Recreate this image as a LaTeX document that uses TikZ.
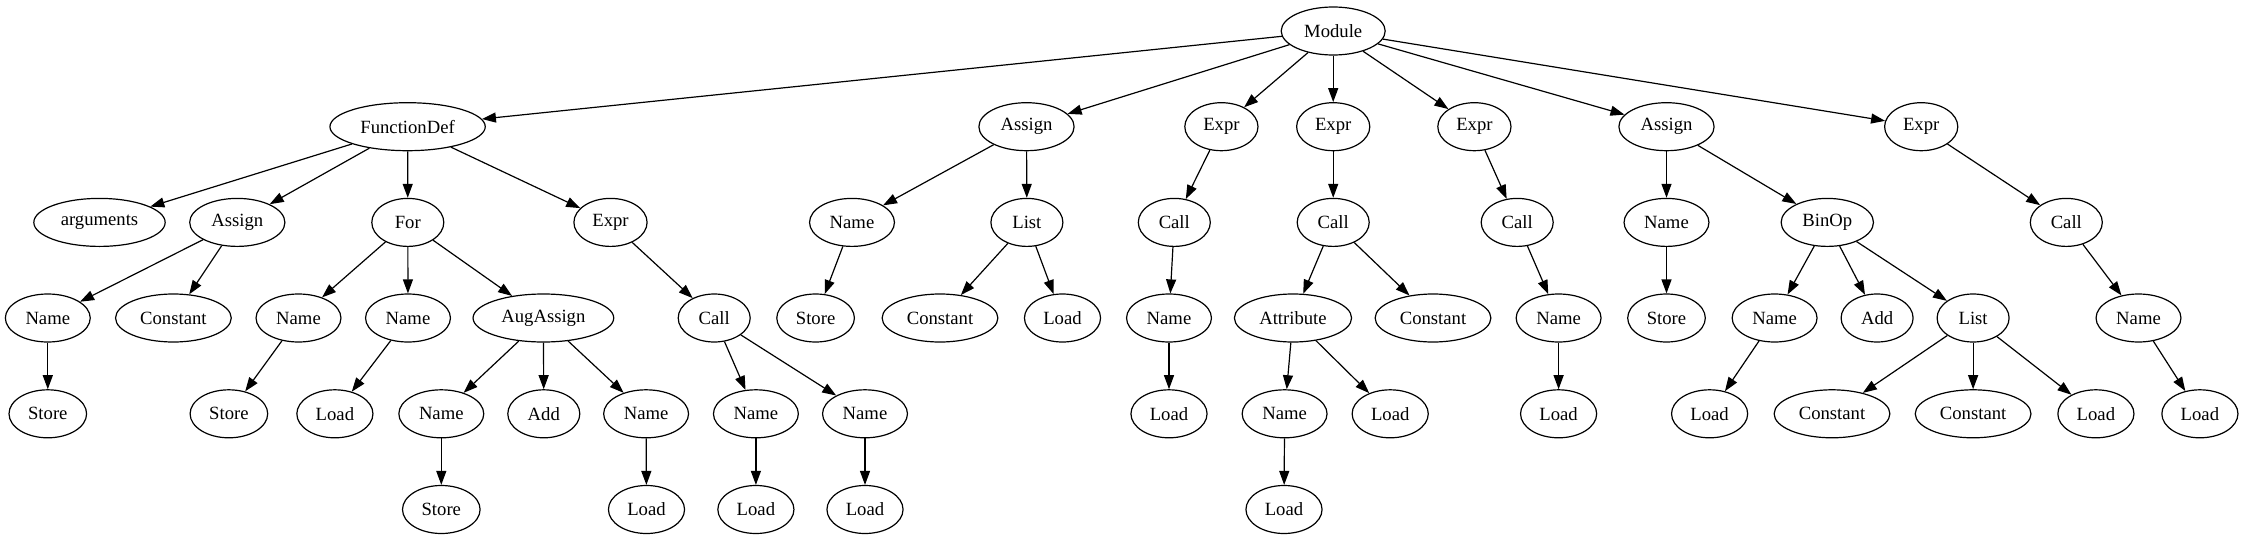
\documentclass[tikz,border=0pt]{standalone}
\usepackage{fontspec}
\setmainfont{Liberation Serif}
\usepackage{tikz}
\usetikzlibrary{shapes.geometric, arrows.meta}

\tikzset{
    ast/.style={ellipse, draw, line width=0.9pt, inner xsep=5.8pt, inner ysep=2pt,
        minimum width=54pt, minimum height=36pt,
        font=\fontsize{14}{16}\selectfont},
    edge/.style={line width=0.9pt, -{Triangle[length=10.5pt,width=7.5pt]}}
}

\begin{document}
\begin{tikzpicture}[x=0.75pt, y=-0.75pt]
    \useasboundingbox (0,0) rectangle (2246,539);

    % root and first level
    \node[ast] (mod) at (1333.2,31) {Module};
    \node[ast] (fdef) at (407.6,126.7) {FunctionDef};
    \node[ast] (asgA) at (1026.5,126.7) {Assign};
    \node[ast] (exprA) at (1221.4,126.7) {Expr};
    \node[ast] (exprB) at (1333.2,126.7) {Expr};
    \node[ast] (exprC) at (1474.4,126.7) {Expr};
    \node[ast] (asgB) at (1666.5,126.7) {Assign};
    \node[ast] (exprD) at (1921.2,126.7) {Expr};

    % second level
    \node[ast] (args) at (99.5,222.4) {arguments};
    \node[ast] (asgF) at (237.3,222.4) {Assign};
    \node[ast] (forF) at (407.8,222.4) {For};
    \node[ast] (exprF) at (610.5,222.4) {Expr};
    \node[ast] (nameA) at (852,222.4) {Name};
    \node[ast] (listA) at (1026.9,222.4) {List};
    \node[ast] (callA) at (1174.3,222.4) {Call};
    \node[ast] (callB) at (1333.2,222.4) {Call};
    \node[ast] (callC) at (1517.2,222.4) {Call};
    \node[ast] (nameB) at (1666.5,222.4) {Name};
    \node[ast] (binop) at (1827.3,222.4) {BinOp};
    \node[ast] (callD) at (2066.3,222.4) {Call};

    % third level
    \node[ast] (nameF1) at (47.8,318) {Name};
    \node[ast] (constF) at (173.4,318) {Constant};
    \node[ast] (nameF2) at (298.5,318) {Name};
    \node[ast] (nameF3) at (408,318) {Name};
    \node[ast] (aug) at (543.4,318) {AugAssign};
    \node[ast] (callF) at (714.2,318) {Call};
    \node[ast] (storeA) at (815.6,318) {Store};
    \node[ast] (constA) at (940,318) {Constant};
    \node[ast] (loadA) at (1062.5,318) {Load};
    \node[ast] (nameC) at (1169,318) {Name};
    \node[ast] (attr) at (1293,318) {Attribute};
    \node[ast] (constB) at (1433,318) {Constant};
    \node[ast] (nameD) at (1558.6,318) {Name};
    \node[ast] (storeB) at (1666.5,318) {Store};
    \node[ast] (nameE) at (1774.6,318) {Name};
    \node[ast] (add) at (1877.1,318) {Add};
    \node[ast] (listB) at (1973.1,318) {List};
    \node[ast] (nameG) at (2138.5,318) {Name};

    % fourth level
    \node[ast] (storeF1) at (47.8,413.8) {Store};
    \node[ast] (storeF2) at (228.9,413.8) {Store};
    \node[ast] (loadF3) at (334.9,413.8) {Load};
    \node[ast] (nameAug1) at (441.3,413.8) {Name};
    \node[ast] (addAug) at (543.8,413.8) {Add};
    \node[ast] (nameAug2) at (646.1,413.8) {Name};
    \node[ast] (nameCall1) at (755.9,413.8) {Name};
    \node[ast] (nameCall2) at (865,413.8) {Name};
    \node[ast] (loadC) at (1169,413.8) {Load};
    \node[ast] (nameAttr) at (1284.6,413.8) {Name};
    \node[ast] (loadAttr) at (1390.2,413.8) {Load};
    \node[ast] (loadD) at (1558.6,413.8) {Load};
    \node[ast] (loadE) at (1709.6,413.8) {Load};
    \node[ast] (constL1) at (1832,413.8) {Constant};
    \node[ast] (constL2) at (1973.1,413.8) {Constant};
    \node[ast] (loadL) at (2095.9,413.8) {Load};
    \node[ast] (loadG) at (2199.9,413.8) {Load};

    % fifth level
    \node[ast] (storeAug) at (441.3,509.5) {Store};
    \node[ast] (loadAug) at (646.5,509.5) {Load};
    \node[ast] (loadCall1) at (755.9,509.5) {Load};
    \node[ast] (loadCall2) at (865,509.5) {Load};
    \node[ast] (loadAttrN) at (1284,509.5) {Load};

    % edges
    \foreach \from/\to in {mod/fdef, mod/asgA, mod/exprA, mod/exprB, mod/exprC, mod/asgB, mod/exprD,
        fdef/args, fdef/asgF, fdef/forF, fdef/exprF,
        asgF/nameF1, asgF/constF, nameF1/storeF1,
        forF/nameF2, forF/nameF3, forF/aug, nameF2/storeF2, nameF3/loadF3,
        aug/nameAug1, aug/addAug, aug/nameAug2, nameAug1/storeAug, nameAug2/loadAug,
        exprF/callF, callF/nameCall1, callF/nameCall2, nameCall1/loadCall1, nameCall2/loadCall2,
        asgA/nameA, asgA/listA, nameA/storeA, listA/constA, listA/loadA,
        exprA/callA, callA/nameC, nameC/loadC,
        exprB/callB, callB/attr, callB/constB, attr/nameAttr, attr/loadAttr, nameAttr/loadAttrN,
        exprC/callC, callC/nameD, nameD/loadD,
        asgB/nameB, asgB/binop, nameB/storeB, binop/nameE, binop/add, binop/listB, nameE/loadE,
        listB/constL1, listB/constL2, listB/loadL,
        exprD/callD, callD/nameG, nameG/loadG} {
        \draw[edge] (\from) -- (\to);
    }
\end{tikzpicture}
\end{document}
